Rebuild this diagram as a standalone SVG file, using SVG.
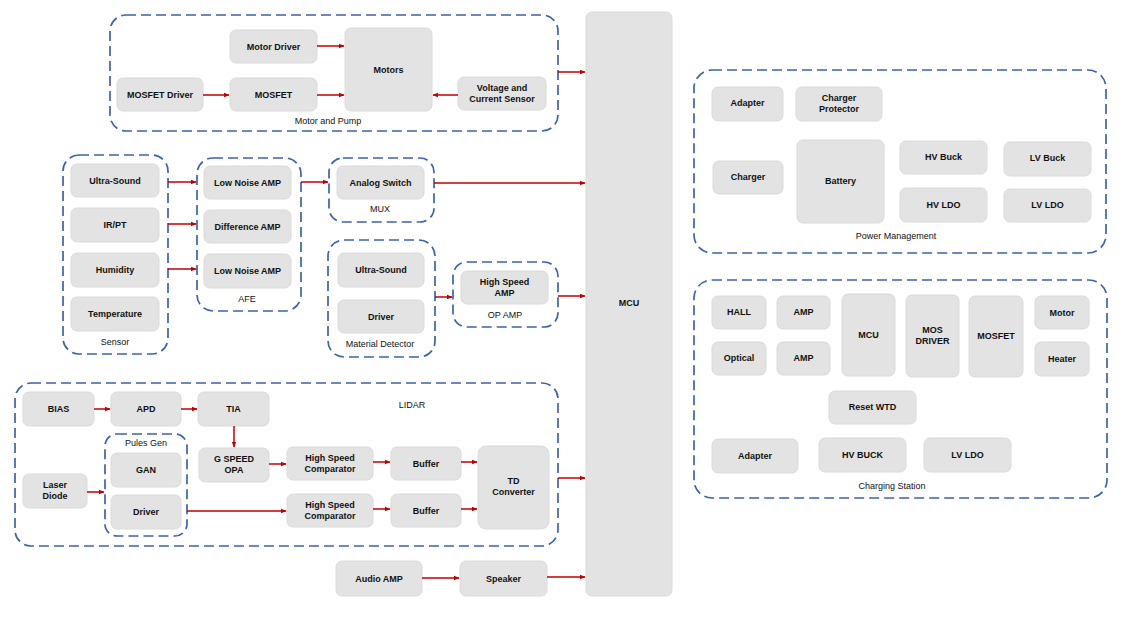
<svg xmlns="http://www.w3.org/2000/svg" width="1132" height="618" viewBox="0 0 1132 618">
<style>
.n{fill:#e3e3e3;stroke:#dadada;stroke-width:1}
.g{fill:none;stroke:#3d62ad;stroke-width:1.7;stroke-dasharray:10 5}
.t{font-family:"Liberation Sans",Arial,sans-serif;font-size:9px;font-weight:bold;fill:#111;text-anchor:middle}
.l{font-family:"Liberation Sans",Arial,sans-serif;font-size:9px;fill:#111;text-anchor:middle}
.c{stroke:#c00000;stroke-width:1.5;fill:none;marker-end:url(#a)}
</style>
<defs>
<marker id="a" markerWidth="6" markerHeight="6" refX="5" refY="3" orient="auto" markerUnits="userSpaceOnUse">
<path d="M0,0.8 L5.5,3 L0,5.2 Z" fill="#c00000"/>
</marker>
</defs>
<rect width="1132" height="618" fill="#fff"/>

<g id="grp-motor"><rect class="g" x="110" y="15" width="448" height="116" rx="16"/><text class="l" x="328" y="124">Motor and Pump</text></g>
<g id="grp-sensor"><rect class="g" x="63" y="155" width="105" height="199" rx="16"/><text class="l" x="115" y="345">Sensor</text></g>
<g id="grp-afe"><rect class="g" x="197" y="158" width="104" height="153" rx="16"/><text class="l" x="247" y="302">AFE</text></g>
<g id="grp-mux"><rect class="g" x="329" y="158" width="105" height="64" rx="14"/><text class="l" x="380" y="212">MUX</text></g>
<g id="grp-md"><rect class="g" x="328" y="240" width="107" height="117" rx="16"/><text class="l" x="380" y="347">Material Detector</text></g>
<g id="grp-op"><rect class="g" x="453" y="262" width="105" height="65" rx="14"/><text class="l" x="505" y="318">OP AMP</text></g>
<g id="grp-lidar"><rect class="g" x="15" y="383" width="543" height="163" rx="16"/><text class="l" x="412" y="408">LIDAR</text></g>
<g id="grp-pules"><rect class="g" x="105" y="434" width="82" height="102" rx="12"/><text class="l" x="146" y="446">Pules Gen</text></g>
<g id="grp-power"><rect class="g" x="694" y="70" width="412" height="183" rx="18"/><text class="l" x="896" y="239">Power Management</text></g>
<g id="grp-charging"><rect class="g" x="694" y="280" width="413" height="218" rx="18"/><text class="l" x="892" y="489">Charging Station</text></g>

<g id="mcu"><rect class="n" x="586" y="12" width="86" height="584" rx="6"/><text class="t" x="629" y="306">MCU</text></g>

<g id="motor-driver"><rect class="n" x="230" y="30" width="87" height="33" rx="6"/><text class="t" x="273.5" y="49.5">Motor Driver</text></g>
<g id="mosfet"><rect class="n" x="230" y="78" width="87" height="33" rx="6"/><text class="t" x="273.5" y="97.5">MOSFET</text></g>
<g id="mosfet-driver"><rect class="n" x="117" y="78" width="86" height="33" rx="6"/><text class="t" x="160" y="97.5">MOSFET Driver</text></g>
<g id="motors"><rect class="n" x="345" y="28" width="87" height="83" rx="6"/><text class="t" x="388.5" y="73">Motors</text></g>
<g id="vc-sensor"><rect class="n" x="458" y="77" width="88" height="33" rx="6"/><text class="t" x="502" y="91">Voltage and</text><text class="t" x="502" y="102">Current Sensor</text></g>

<g id="s-ultra"><rect class="n" x="71" y="164" width="88" height="33" rx="6"/><text class="t" x="115" y="184">Ultra-Sound</text></g>
<g id="s-irpt"><rect class="n" x="71" y="208" width="88" height="34" rx="6"/><text class="t" x="115" y="228">IR/PT</text></g>
<g id="s-hum"><rect class="n" x="71" y="253" width="88" height="34" rx="6"/><text class="t" x="115" y="273">Humidity</text></g>
<g id="s-temp"><rect class="n" x="71" y="297" width="88" height="34" rx="6"/><text class="t" x="115" y="317">Temperature</text></g>

<g id="afe-lna1"><rect class="n" x="204" y="166" width="87" height="33" rx="6"/><text class="t" x="247.5" y="185.5">Low Noise AMP</text></g>
<g id="afe-diff"><rect class="n" x="204" y="210" width="87" height="33" rx="6"/><text class="t" x="247.5" y="229.5">Difference AMP</text></g>
<g id="afe-lna2"><rect class="n" x="204" y="254" width="87" height="34" rx="6"/><text class="t" x="247.5" y="274">Low Noise AMP</text></g>

<g id="analog-switch"><rect class="n" x="337" y="166" width="87" height="33" rx="6"/><text class="t" x="380.5" y="185.5">Analog Switch</text></g>
<g id="md-ultra"><rect class="n" x="338" y="253" width="86" height="34" rx="6"/><text class="t" x="381" y="273">Ultra-Sound</text></g>
<g id="md-driver"><rect class="n" x="338" y="300" width="86" height="33" rx="6"/><text class="t" x="381" y="319.5">Driver</text></g>
<g id="hs-amp"><rect class="n" x="461" y="271" width="87" height="33" rx="6"/><text class="t" x="504.5" y="284.5">High Speed</text><text class="t" x="504.5" y="295.5">AMP</text></g>

<g id="bias"><rect class="n" x="23" y="392" width="71" height="34" rx="6"/><text class="t" x="58.5" y="412">BIAS</text></g>
<g id="apd"><rect class="n" x="111" y="392" width="70" height="34" rx="6"/><text class="t" x="146" y="412">APD</text></g>
<g id="tia"><rect class="n" x="198" y="392" width="71" height="34" rx="6"/><text class="t" x="233.5" y="412">TIA</text></g>
<g id="gspeed"><rect class="n" x="199" y="448" width="70" height="34" rx="6"/><text class="t" x="234" y="462">G SPEED</text><text class="t" x="234" y="473">OPA</text></g>
<g id="laser"><rect class="n" x="23" y="474" width="64" height="34" rx="6"/><text class="t" x="55" y="488">Laser</text><text class="t" x="55" y="499">Diode</text></g>
<g id="gan"><rect class="n" x="111" y="453" width="70" height="34" rx="6"/><text class="t" x="146" y="473">GAN</text></g>
<g id="pg-driver"><rect class="n" x="111" y="495" width="70" height="34" rx="6"/><text class="t" x="146" y="515">Driver</text></g>
<g id="hsc1"><rect class="n" x="287" y="447" width="86" height="33" rx="6"/><text class="t" x="330" y="461">High Speed</text><text class="t" x="330" y="472">Comparator</text></g>
<g id="hsc2"><rect class="n" x="287" y="494" width="86" height="33" rx="6"/><text class="t" x="330" y="508">High Speed</text><text class="t" x="330" y="519">Comparator</text></g>
<g id="buf1"><rect class="n" x="391" y="447" width="70" height="33" rx="6"/><text class="t" x="426" y="466.5">Buffer</text></g>
<g id="buf2"><rect class="n" x="391" y="494" width="70" height="33" rx="6"/><text class="t" x="426" y="513.5">Buffer</text></g>
<g id="td"><rect class="n" x="478" y="446" width="71" height="83" rx="8"/><text class="t" x="513.5" y="484">TD</text><text class="t" x="513.5" y="495">Converter</text></g>

<g id="audio-amp"><rect class="n" x="336" y="561" width="86" height="35" rx="6"/><text class="t" x="379" y="581.5">Audio AMP</text></g>
<g id="speaker"><rect class="n" x="460" y="561" width="87" height="35" rx="6"/><text class="t" x="503.5" y="581.5">Speaker</text></g>

<g id="pm-adapter"><rect class="n" x="712" y="87" width="71" height="34" rx="6"/><text class="t" x="747.5" y="106">Adapter</text></g>
<g id="pm-cp"><rect class="n" x="796" y="87" width="86" height="34" rx="6"/><text class="t" x="839" y="101">Charger</text><text class="t" x="839" y="112">Protector</text></g>
<g id="pm-charger"><rect class="n" x="713" y="161" width="70" height="33" rx="6"/><text class="t" x="748" y="180">Charger</text></g>
<g id="pm-battery"><rect class="n" x="797" y="140" width="87" height="83" rx="6"/><text class="t" x="840.5" y="184">Battery</text></g>
<g id="pm-hvbuck"><rect class="n" x="900" y="141" width="87" height="33" rx="6"/><text class="t" x="943.5" y="160">HV Buck</text></g>
<g id="pm-hvldo"><rect class="n" x="900" y="188" width="87" height="34" rx="6"/><text class="t" x="943.5" y="208">HV LDO</text></g>
<g id="pm-lvbuck"><rect class="n" x="1004" y="142" width="87" height="34" rx="6"/><text class="t" x="1047.5" y="161">LV Buck</text></g>
<g id="pm-lvldo"><rect class="n" x="1004" y="189" width="87" height="33" rx="6"/><text class="t" x="1047.5" y="208">LV LDO</text></g>

<g id="cs-hall"><rect class="n" x="712" y="296" width="54" height="33" rx="6"/><text class="t" x="739" y="315">HALL</text></g>
<g id="cs-amp1"><rect class="n" x="777" y="296" width="53" height="33" rx="6"/><text class="t" x="803.5" y="315">AMP</text></g>
<g id="cs-optical"><rect class="n" x="712" y="342" width="54" height="33" rx="6"/><text class="t" x="739" y="361">Optical</text></g>
<g id="cs-amp2"><rect class="n" x="777" y="342" width="53" height="33" rx="6"/><text class="t" x="803.5" y="361">AMP</text></g>
<g id="cs-mcu"><rect class="n" x="842" y="294" width="53" height="82" rx="6"/><text class="t" x="868.5" y="338">MCU</text></g>
<g id="cs-mosdrv"><rect class="n" x="906" y="295" width="53" height="82" rx="6"/><text class="t" x="932.5" y="333">MOS</text><text class="t" x="932.5" y="344">DRIVER</text></g>
<g id="cs-mosfet"><rect class="n" x="969" y="296" width="54" height="81" rx="6"/><text class="t" x="996" y="339">MOSFET</text></g>
<g id="cs-motor"><rect class="n" x="1035" y="296" width="54" height="33" rx="6"/><text class="t" x="1062" y="316">Motor</text></g>
<g id="cs-heater"><rect class="n" x="1035" y="342" width="54" height="34" rx="6"/><text class="t" x="1062" y="362">Heater</text></g>
<g id="cs-reset"><rect class="n" x="829" y="391" width="87" height="33" rx="6"/><text class="t" x="872.5" y="410">Reset WTD</text></g>
<g id="cs-adapter"><rect class="n" x="712" y="439" width="86" height="34" rx="6"/><text class="t" x="755" y="459">Adapter</text></g>
<g id="cs-hvbuck"><rect class="n" x="819" y="438" width="87" height="34" rx="6"/><text class="t" x="862.5" y="458">HV BUCK</text></g>
<g id="cs-lvldo"><rect class="n" x="924" y="438" width="87" height="34" rx="6"/><text class="t" x="967.5" y="458">LV LDO</text></g>

<g id="connectors">
<line class="c" x1="317" y1="46" x2="344" y2="46"/>
<line class="c" x1="317" y1="95" x2="344" y2="95"/>
<line class="c" x1="203" y1="95" x2="229" y2="95"/>
<line class="c" x1="458" y1="95" x2="433" y2="95"/>
<line class="c" x1="558" y1="72" x2="585" y2="72"/>
<line class="c" x1="168" y1="182" x2="196" y2="182"/>
<line class="c" x1="168" y1="224" x2="196" y2="224"/>
<line class="c" x1="168" y1="269" x2="196" y2="269"/>
<line class="c" x1="301" y1="182" x2="328" y2="182"/>
<line class="c" x1="434" y1="183" x2="585" y2="183"/>
<line class="c" x1="435" y1="297" x2="452" y2="297"/>
<line class="c" x1="558" y1="296" x2="585" y2="296"/>
<line class="c" x1="94" y1="409" x2="110" y2="409"/>
<line class="c" x1="181" y1="409" x2="197" y2="409"/>
<line class="c" x1="234" y1="426" x2="234" y2="447"/>
<line class="c" x1="87" y1="492" x2="104" y2="492"/>
<line class="c" x1="187" y1="511" x2="286" y2="511"/>
<line class="c" x1="269" y1="464" x2="286" y2="464"/>
<line class="c" x1="373" y1="462" x2="390" y2="462"/>
<line class="c" x1="373" y1="509" x2="390" y2="509"/>
<line class="c" x1="461" y1="462" x2="477" y2="462"/>
<line class="c" x1="461" y1="509" x2="477" y2="509"/>
<line class="c" x1="558" y1="478" x2="585" y2="478"/>
<line class="c" x1="422" y1="578" x2="459" y2="578"/>
<line class="c" x1="547" y1="577" x2="585" y2="577"/>
</g>
</svg>
